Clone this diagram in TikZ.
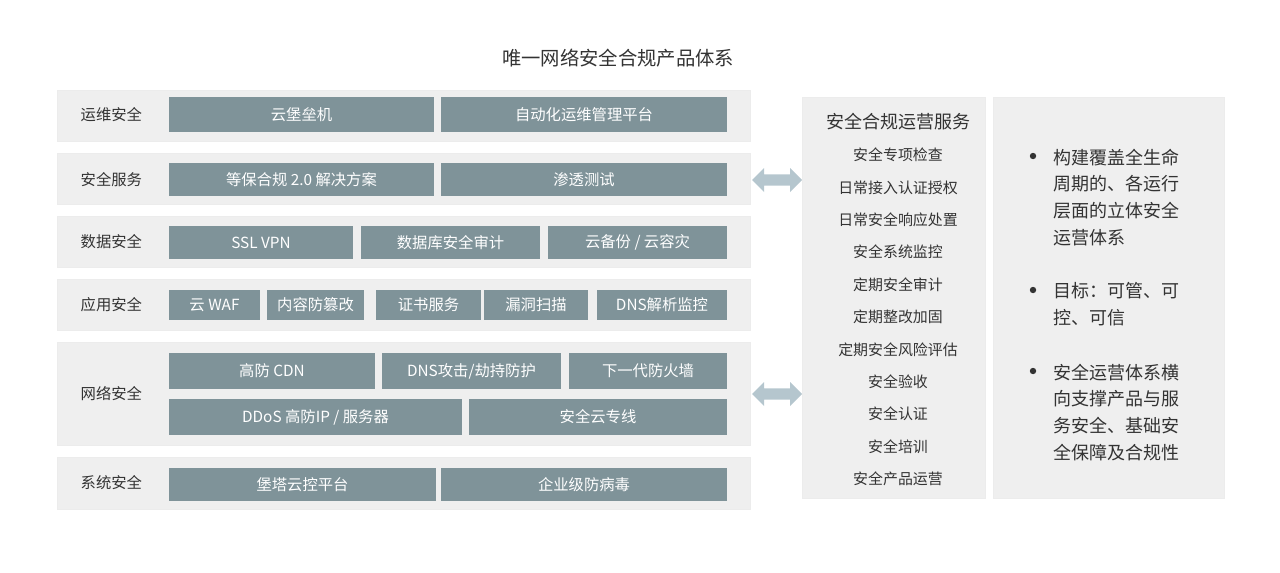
\documentclass[tikz,border=0pt]{standalone}
\usepackage{fontspec}
\setmainfont{Noto Sans CJK SC}
\usetikzlibrary{shapes.arrows}
\definecolor{boxc}{HTML}{7F9399}
\definecolor{rowc}{HTML}{EFEFEF}
\definecolor{txt}{HTML}{333333}
\definecolor{arr}{HTML}{B5C6CE}
\begin{document}
\begin{tikzpicture}[x=0.75pt,y=-0.75pt,
 row/.style={fill=rowc,draw=white!85!gray,line width=0.6pt},
 lab/.style={text=txt,font=\fontsize{11.5}{13}\selectfont,anchor=west},
 item/.style={text=txt,font=\fontsize{11.2}{13}\selectfont},
 btxt/.style={text=white,font=\fontsize{11.5}{13}\selectfont}]
\useasboundingbox (0,0) rectangle (1280,572);
\newcommand{\bx}[6]{\fill[boxc] (#2,#3) rectangle (#4,#5); \node[btxt] (#1) at ({(#2+#4)/2},{(#3+#5)/2}) {#6};}
\node[text=txt,font=\fontsize{14.5}{16}\selectfont] (title) at (618,58) {唯一网络安全合规产品体系};
% rows
\draw[row] (57,90) rectangle (750,141); \node[lab] (l1) at (76,115) {运维安全};
\bx{b11}{169}{97}{434}{132}{云堡垒机}
\bx{b12}{441}{97}{727}{132}{自动化运维管理平台}
\draw[row] (57,153) rectangle (750,204); \node[lab] (l2) at (76,180) {安全服务};
\bx{b21}{169}{163}{434}{196}{等保合规 2.0 解决方案}
\bx{b22}{441}{163}{727}{196}{渗透测试}
\draw[row] (57,216) rectangle (750,267); \node[lab] (l3) at (76,242) {数据安全};
\bx{b31}{169}{226}{353}{259}{SSL VPN}
\bx{b32}{361}{226}{540}{259}{数据库安全审计}
\bx{b33}{548}{226}{727}{259}{云备份 / 云容灾}
\draw[row] (57,279) rectangle (750,330); \node[lab] (l4) at (76,305) {应用安全};
\bx{b41}{169}{290}{260}{320}{云 WAF}
\bx{b42}{267}{290}{364}{320}{内容防篡改}
\bx{b43}{376}{290}{481}{320}{证书服务}
\bx{b44}{484}{290}{588}{320}{漏洞扫描}
\bx{b45}{597}{290}{727}{320}{DNS解析监控}
\draw[row] (57,342) rectangle (750,445); \node[lab] (l5) at (76,394) {网络安全};
\bx{b51}{169}{353}{375}{389}{高防 CDN}
\bx{b52}{382}{353}{561}{389}{DNS攻击/劫持防护}
\bx{b53}{569}{353}{727}{389}{下一代防火墙}
\bx{b54}{169}{399}{462}{435}{DDoS 高防IP / 服务器}
\bx{b55}{469}{399}{727}{435}{安全云专线}
\draw[row] (57,457) rectangle (750,509); \node[lab] (l6) at (76,483) {系统安全};
\bx{b61}{169}{468}{436}{501}{堡塔云控平台}
\bx{b62}{441}{468}{727}{501}{企业级防病毒}
% arrows
\node[double arrow,fill=arr,minimum width=24pt*0.75,double arrow head extend=2pt,minimum height=50*0.75pt,inner sep=1.5pt] (a1) at (777,180) {};
\node[double arrow,fill=arr,minimum width=24pt*0.75,double arrow head extend=2pt,minimum height=50*0.75pt,inner sep=1.5pt] (a2) at (777,394) {};
% middle panel
\draw[row] (802,97) rectangle (985,498);
\node[text=txt,font=\fontsize{13.5}{15}\selectfont] (mt) at (898,122) {安全合规运营服务};
\foreach \t [count=\i] in {安全专项检查,日常接入认证授权,日常安全响应处置,安全系统监控,定期安全审计,定期整改加固,定期安全风险评估,安全验收,安全认证,安全培训,安全产品运营}
 \node[item] (m\i) at (898,{155+(\i-1)*32.4}) {\t};
% right panel
\draw[row] (993,97) rectangle (1224,498);
\foreach \y in {156,290,371} \fill[txt] (1033,\y) circle (3.2);
\node[text=txt,font=\fontsize{13.5}{20}\selectfont,anchor=north west,align=left] (r1) at (1049,144) {构建覆盖全生命\\周期的、各运行\\层面的立体安全\\运营体系};
\node[text=txt,font=\fontsize{13.5}{20}\selectfont,anchor=north west,align=left] (r2) at (1049,278) {目标：可管、可\\控、可信};
\node[text=txt,font=\fontsize{13.5}{20}\selectfont,anchor=north west,align=left] (r3) at (1049,359) {安全运营体系横\\向支撑产品与服\\务安全、基础安\\全保障及合规性};
\end{tikzpicture}
\end{document}
